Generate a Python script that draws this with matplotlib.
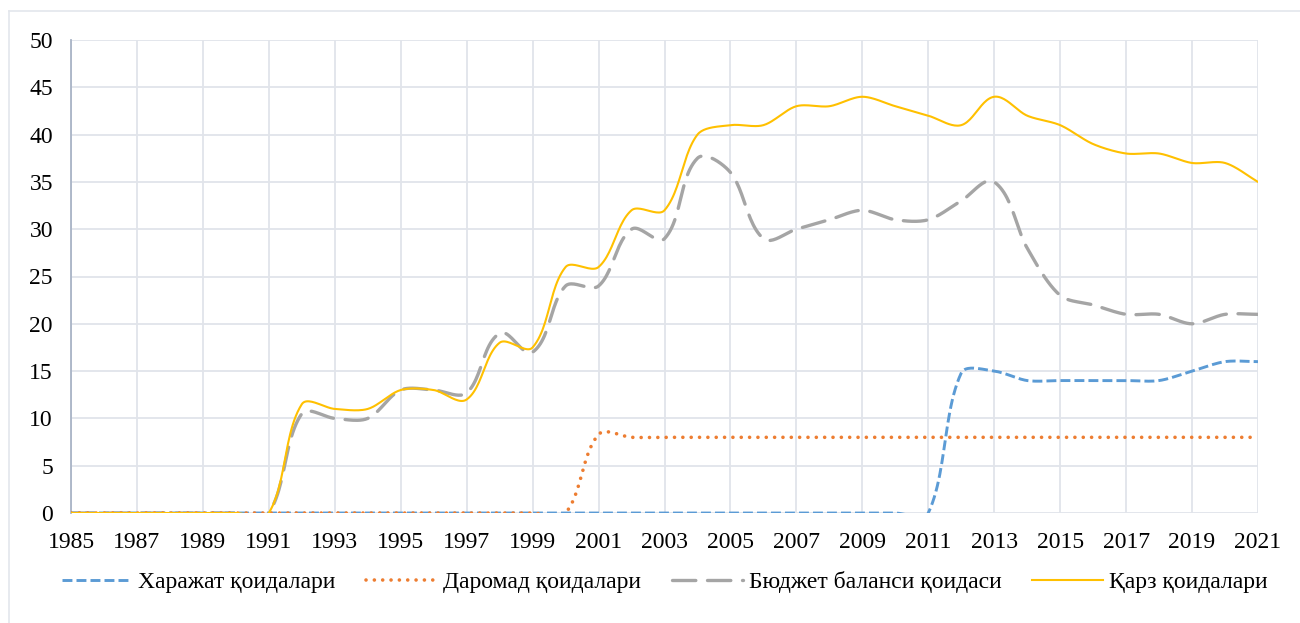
import numpy as np
import matplotlib.pyplot as plt
from matplotlib.lines import Line2D

years = list(range(1985, 2022))

# Харажат қоидалари
xarajat = [0] * 27 + [14.8, 15, 14, 14, 14, 14, 14, 15, 16, 16]
# Даромад қоидалари
daromad = [0] * 16 + [8.3] + [8] * 20
# Бюджет баланси қоидаси
byudjet = [0, 0, 0, 0, 0, 0, 0, 10.5, 10, 10, 13, 13, 12.7, 19, 17, 24, 24, 30, 29,
           37.5, 36, 29, 30, 31, 32, 31, 31, 33, 35, 28, 23, 22, 21, 21, 20, 21, 21]
# Қарз қоидалари
qarz = [0, 0, 0, 0, 0, 0, 0, 11.5, 11, 11, 13, 13, 12, 18, 17.5, 26, 26, 32, 32,
        40, 41, 41, 43, 43, 44, 43, 42, 41, 44, 42, 41, 39, 38, 38, 37, 37, 35]

names = ["Харажат қоидалари", "Даромад қоидалари", "Бюджет баланси қоидаси", "Қарз қоидалари"]

SX, SY = 32.97, 9.46  # пикселей на год / на единицу


def smooth(x, y, n=24, s=0.3):
    # сглаживание примерно как в Excel: Безье, контрольные точки по длине хорд
    p = np.column_stack([np.asarray(x, float) * SX, np.asarray(y, float) * SY])
    pe = np.vstack([p[0], p, p[-1]])
    d = pe[2:] - pe[:-2]
    d = d / np.linalg.norm(d, axis=1, keepdims=True)
    seg = np.linalg.norm(p[1:] - p[:-1], axis=1)
    t = np.linspace(0, 1, n, endpoint=False)[:, None]
    out = []
    for i in range(len(p) - 1):
        c1 = p[i] + d[i] * seg[i] * s
        c2 = p[i + 1] - d[i + 1] * seg[i] * s
        b = ((1 - t) ** 3 * p[i] + 3 * (1 - t) ** 2 * t * c1
             + 3 * (1 - t) * t ** 2 * c2 + t ** 3 * p[i + 1])
        out.append(b)
    out.append(p[-1:])
    out = np.vstack(out)
    return out[:, 0] / SX, out[:, 1] / SY


plt.rcParams['font.family'] = ['Liberation Serif', 'DejaVu Serif']

fig = plt.figure(figsize=(13, 6.23), dpi=100)
ax = fig.add_axes([71 / 1300, (623 - 513) / 623, (1258 - 71) / 1300, 473 / 623])

# рамка диаграммы
fig.add_artist(Line2D([9 / 1300, 9 / 1300], [0, 1 - 11 / 623], color='#E3E6EC', lw=1.2,
                      transform=fig.transFigure))
fig.add_artist(Line2D([9 / 1300, 1], [1 - 11 / 623, 1 - 11 / 623], color='#E3E6EC', lw=1.2,
                      transform=fig.transFigure))

x, y = smooth(years, xarajat)
ax.plot(x, y, color='#5B9BD5', lw=2.1, dashes=(3.4, 1.4), label=names[0], zorder=3)
x, y = smooth(years, daromad)
ax.plot(x, y, color='#ED7D31', lw=2.6, dashes=(0.01, 2.3), dash_capstyle='round',
        label=names[1], zorder=4)
x, y = smooth(years, byudjet)
ax.plot(x, y, color='#A5A5A5', lw=2.4, dashes=(7, 3.5), dash_capstyle='round',
        label=names[2], zorder=3)
x, y = smooth(years, qarz)
ax.plot(x, y, color='#FFC000', lw=1.5, label=names[3], zorder=5)

ax.set_xlim(1985, 2021)
ax.set_ylim(0, 50)
ax.set_xticks(range(1985, 2022, 2))
ax.set_yticks(range(0, 51, 5))
ax.grid(True, color='#E1E4EA', lw=1.3)
ax.set_axisbelow(True)
for s in ['top', 'right', 'bottom']:
    ax.spines[s].set_visible(False)
ax.spines['left'].set_color('#A9B4C6')
ax.spines['left'].set_linewidth(1.3)
ax.tick_params(length=0, labelsize=17)
ax.tick_params(axis='x', pad=14)
ax.tick_params(axis='y', pad=13)

ax.legend(loc='upper center', bbox_to_anchor=(0.5, -0.078), ncol=4, frameon=False,
          fontsize=17, handlelength=3.0, columnspacing=1.3, handletextpad=0.25)

fig.savefig('out.png', dpi=100)
